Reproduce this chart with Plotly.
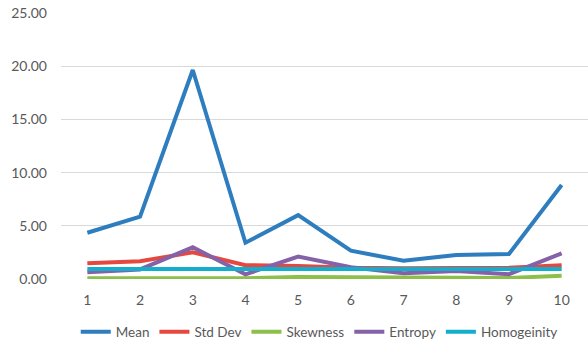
import plotly.graph_objects as go

# Sample index along the x axis
samples = ["1", "2", "3", "4", "5", "6", "7", "8", "9", "10"]

# Texture feature values per sample
mean = [4.35, 5.86, 19.64, 3.41, 6.00, 2.66, 1.72, 2.26, 2.35, 8.83]
std_dev = [1.47, 1.66, 2.50, 1.30, 1.22, 1.05, 1.00, 1.00, 1.05, 1.30]
skewness = [0.08, 0.08, 0.12, 0.08, 0.18, 0.14, 0.14, 0.14, 0.10, 0.30]
entropy = [0.63, 0.90, 2.98, 0.44, 2.10, 1.10, 0.55, 0.75, 0.45, 2.41]
homogeinity = [0.95, 0.95, 0.88, 0.90, 0.95, 0.95, 0.93, 0.93, 0.93, 0.95]

series = [
    ("Mean", mean, "#2E7DBF"),
    ("Std Dev", std_dev, "#E5483F"),
    ("Skewness", skewness, "#8CC04B"),
    ("Entropy", entropy, "#8561A8"),
    ("Homogeinity", homogeinity, "#12AECB"),
]

fig = go.Figure()
for name, vals, color in series:
    fig.add_trace(go.Scatter(
        x=samples, y=vals, name=name, mode="lines",
        line=dict(color=color, width=4),
    ))

fig.update_layout(
    width=588, height=345,
    margin=dict(l=61, r=0, t=13, b=66, autoexpand=False),
    paper_bgcolor="white", plot_bgcolor="white",
    font=dict(family="Lato, Open Sans, sans-serif", size=14, color="#595959"),
    showlegend=True,
    legend=dict(
        orientation="h", x=0.49, xanchor="center", y=-0.199, yanchor="middle",
        font=dict(size=13.5, color="#595959"), itemwidth=30,
        tracegroupgap=0,
    ),
    xaxis=dict(
        type="category", range=[-0.5, 9.5], showgrid=False, zeroline=False,
        showline=False, ticks="", ticklabelstandoff=11,
        tickfont=dict(size=14, color="#595959"),
    ),
    yaxis=dict(
        range=[0, 25], tickvals=[0, 5, 10, 15, 20, 25],
        tickformat=".2f", showgrid=True, gridcolor="#D9D9D9", gridwidth=1,
        zeroline=False, showline=False, ticks="", ticklabelstandoff=13,
        tickfont=dict(size=14, color="#595959"),
    ),
)

fig.write_html("out.html")
